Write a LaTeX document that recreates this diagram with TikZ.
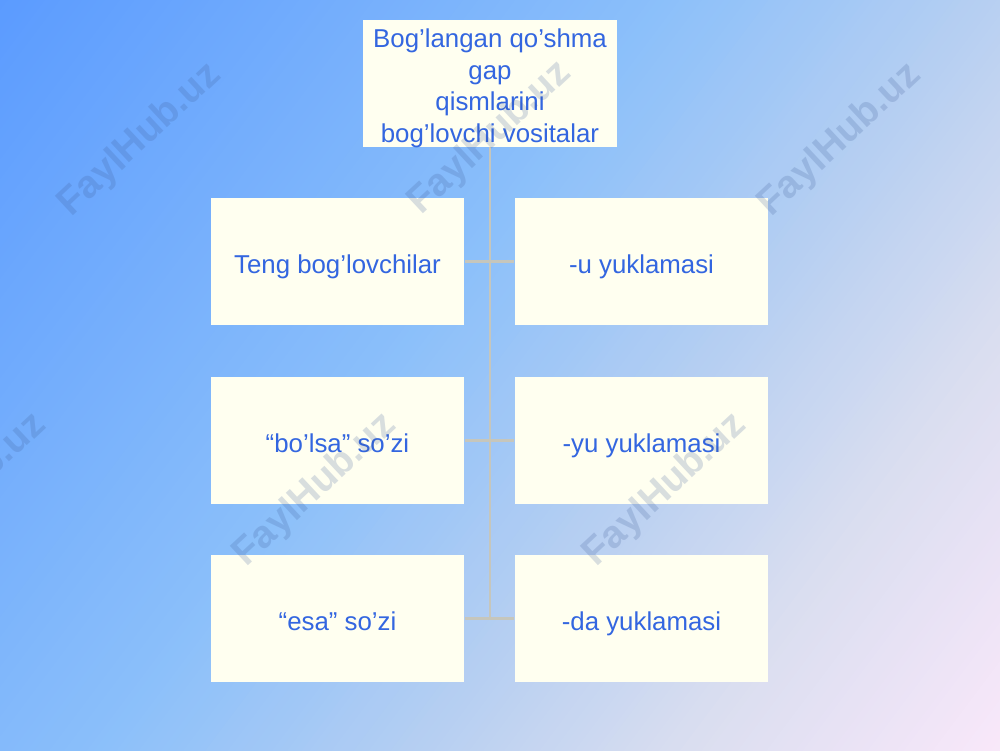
\documentclass[tikz,border=0pt]{standalone}
\usepackage{fontspec}
\setmainfont{Liberation Sans}
\definecolor{bgA}{RGB}{91,155,255}
\definecolor{bgB}{RGB}{140,192,250}
\definecolor{bgC}{RGB}{180,206,242}
\definecolor{bgD}{RGB}{218,222,240}
\definecolor{bgE}{RGB}{250,232,250}
\definecolor{boxfill}{RGB}{255,255,240}
\definecolor{txtblue}{RGB}{51,102,224}
\definecolor{linegray}{RGB}{198,198,188}
\definecolor{wm}{RGB}{60,90,150}
\tikzset{
  boxshape/.style={draw=none, fill=boxfill, minimum width=5.07cm, minimum height=2.54cm,
    inner sep=0pt, text=txtblue, font=\fontsize{14.7}{18}\selectfont, align=center},
  box/.style={boxshape, text height=16.5pt, text depth=3.2pt},
  boxtext/.style={inner sep=0pt, text=txtblue, font=\fontsize{14.7}{18}\selectfont, align=center},
  link/.style={draw=linegray, line width=1.7pt},
  wmark/.style={text=wm, opacity=0.2, font=\bfseries\fontsize{22}{22}\selectfont, rotate=43}
}
\newcommand{\gradseg}[5]{%
  \foreach \j in {1,...,#5}{%
    \pgfmathsetmacro\xa{#1+(#2-#1)*(\j-1)/#5}%
    \pgfmathsetmacro\xb{#1+(#2-#1)*\j/#5+0.03}%
    \pgfmathsetmacro\pp{100*(\j-0.5)/#5}%
    \fill[#4!\pp!#3] (\xa,-13) rectangle (\xb,13);
  }}
\begin{document}
\begin{tikzpicture}
\useasboundingbox (0,0) rectangle (20,15);
% background gradient
\begin{scope}
  \clip (0,0) rectangle (20,15);
  \begin{scope}[shift={(0,15)}, rotate=-36.87]
    \gradseg{0}{10.75}{bgA}{bgB}{90}
    \gradseg{10.75}{15.5}{bgB}{bgC}{40}
    \gradseg{15.5}{20}{bgC}{bgD}{40}
    \gradseg{20}{25.2}{bgD}{bgE}{45}
  \end{scope}
\end{scope}
% boxes
\node[boxshape, minimum width=5.08cm] (top) at (9.8,13.33) {};
\node[boxtext] (toptext) at ([yshift=-0.1cm]top.center) {Bog’langan qo’shma\\gap\\qismlarini\\bog’lovchi vositalar};
\node[box] (l1) at (6.75,9.77) {Teng bog’lovchilar};
\node[box] (l2) at (6.75,6.19) {“bo’lsa” so’zi};
\node[box] (l3) at (6.75,2.63) {“esa” so’zi};
\node[box] (r1) at (12.83,9.77) {-u yuklamasi};
\node[box] (r2) at (12.83,6.19) {-yu yuklamasi};
\node[box] (r3) at (12.83,2.63) {-da yuklamasi};
% connectors
\draw[link] (top.south) -- (top.south |- l3.east);
\draw[link] (l1.east) -- (r1.west);
\draw[link] (l2.east) -- (r2.west);
\draw[link] (l3.east) -- (r3.west);
% watermarks
\node[wmark] (w1) at (2.8,12.2) {FaylHub.uz};
\node[wmark] (w2) at (9.8,12.24) {FaylHub.uz};
\node[wmark] (w3) at (16.8,12.2) {FaylHub.uz};
\node[wmark] (w4) at (-0.7,5.2) {FaylHub.uz};
\node[wmark] (w5) at (6.3,5.2) {FaylHub.uz};
\node[wmark] (w6) at (13.3,5.2) {FaylHub.uz};
\end{tikzpicture}
\end{document}
